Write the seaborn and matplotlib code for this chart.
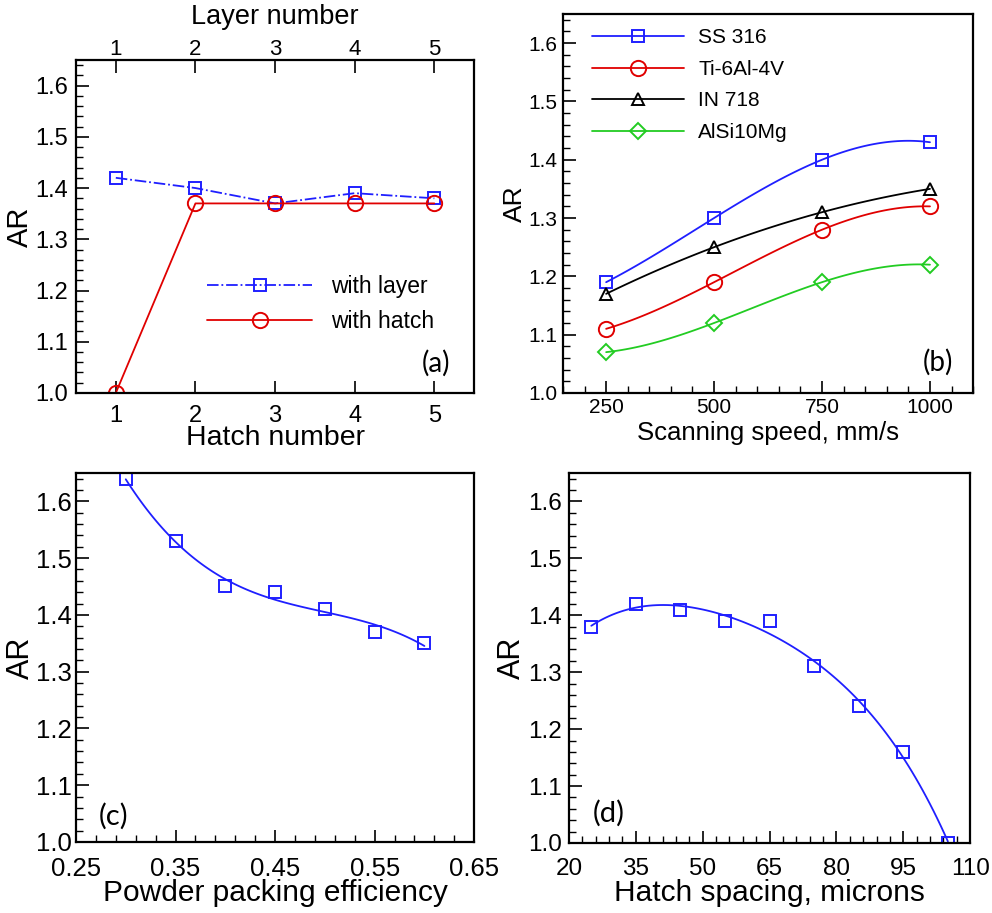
import numpy as np
import pandas as pd
import matplotlib
matplotlib.use('Agg')
import matplotlib.pyplot as plt
import seaborn as sns
from matplotlib.lines import Line2D
from matplotlib.ticker import AutoMinorLocator, FormatStrFormatter

# ---- data ----
hatch_num = [1, 2, 3, 4, 5]
ar_layer = [1.42, 1.40, 1.37, 1.39, 1.38]
ar_hatch = [1.00, 1.37, 1.37, 1.37, 1.37]

speed = [250, 500, 750, 1000]
ar_ss316 = [1.19, 1.30, 1.40, 1.43]
ar_ti64 = [1.11, 1.19, 1.28, 1.32]
ar_in718 = [1.17, 1.25, 1.31, 1.35]
ar_alsi = [1.07, 1.12, 1.19, 1.22]

packing = [0.30, 0.35, 0.40, 0.45, 0.50, 0.55, 0.60]
ar_packing = [1.64, 1.53, 1.45, 1.44, 1.41, 1.37, 1.35]

spacing = [25, 35, 45, 55, 65, 75, 85, 95, 105]
ar_spacing = [1.38, 1.42, 1.41, 1.39, 1.39, 1.31, 1.24, 1.16, 1.00]

BLUE = '#1f1fff'
RED = '#e00000'
BLACK = '#000000'
GREEN = '#22cc22'

sns.set_theme(style='ticks')
plt.rcParams['font.family'] = ['Liberation Sans', 'DejaVu Sans']
plt.rcParams['text.color'] = 'black'
plt.rcParams['axes.labelcolor'] = 'black'
plt.rcParams['xtick.color'] = 'black'
plt.rcParams['ytick.color'] = 'black'
plt.rcParams['axes.edgecolor'] = 'black'

fig = plt.figure(figsize=(9.92, 9.13), dpi=100)
ax_a = fig.add_axes([0.0766, 0.5696, 0.4014, 0.3647])
ax_b = fig.add_axes([0.5675, 0.5696, 0.4135, 0.4151])
ax_c = fig.add_axes([0.0766, 0.0778, 0.4014, 0.4042])
ax_d = fig.add_axes([0.5736, 0.0767, 0.4044, 0.4053])


def style_axes(ax, fs, xpad, ypad, lab_fs, xl_y, yl_x):
    ax.set_ylim(1.0, 1.65)
    ax.set_yticks([1.0, 1.1, 1.2, 1.3, 1.4, 1.5, 1.6])
    ax.yaxis.set_major_formatter(FormatStrFormatter('%.1f'))
    ax.yaxis.set_minor_locator(AutoMinorLocator(5))
    ax.tick_params(which='major', direction='in', length=9, width=1.2,
                   labelsize=fs, top=False, right=False)
    ax.tick_params(which='minor', direction='in', length=5, width=1.0,
                   top=False, right=False)
    ax.tick_params(axis='x', pad=xpad)
    ax.tick_params(axis='y', pad=ypad)
    for s in ax.spines.values():
        s.set_visible(True)
        s.set_color('black')
        s.set_linewidth(1.6)
    ax.set_ylabel('AR', fontsize=lab_fs)
    ax.xaxis.label.set_fontsize(lab_fs - 0.5)
    ax.xaxis.set_label_coords(0.5, xl_y)
    ax.yaxis.set_label_coords(yl_x, 0.5)
    ax.xaxis.label.set_verticalalignment('center')
    ax.yaxis.label.set_verticalalignment('center')


def hollow(ax, x, y, color, marker, ms):
    sns.lineplot(x=x, y=y, ax=ax, color=color, marker=marker, markersize=ms,
                 markerfacecolor='none', markeredgecolor=color,
                 markeredgewidth=1.4, linestyle='', legend=False)


# ---- (a) ----
sns.lineplot(x=hatch_num, y=ar_layer, ax=ax_a, color=BLUE, linestyle='-.',
             linewidth=1.3, marker='s', markersize=8.5, markerfacecolor='none',
             markeredgecolor=BLUE, markeredgewidth=1.4, label='with layer')
sns.lineplot(x=hatch_num, y=ar_hatch, ax=ax_a, color=RED, linestyle='-',
             linewidth=1.3, marker='o', markersize=11, markerfacecolor='none',
             markeredgecolor=RED, markeredgewidth=1.4, label='with hatch')
ax_a.set_xlim(0.5, 5.5)
ax_a.set_xticks(hatch_num)
ax_a.set_xlabel('Hatch number')
style_axes(ax_a, 17, 8.5, 5.5, 21, -0.135, -0.141)
top_a = ax_a.twiny()
top_a.set_xlim(0.5, 5.5)
top_a.set_xticks(hatch_num)
top_a.tick_params(direction='in', length=9, width=1.2, labelsize=16, pad=0)
top_a.set_xlabel('Layer number', fontsize=19.5)
top_a.xaxis.set_label_coords(0.5, 1.128)
top_a.xaxis.label.set_verticalalignment('center')
ax_a.legend(loc='upper left', bbox_to_anchor=(0.329, 0.354), frameon=False,
            fontsize=16.5, handlelength=4.6, handletextpad=0.8,
            labelspacing=0.5, borderpad=0, borderaxespad=0)
ax_a.text(0.905, 0.09, '(a)', transform=ax_a.transAxes, fontsize=20,
          ha='center', va='center', family=['Lato', 'DejaVu Sans'])

# ---- (b) ----
series_b = [('SS 316', ar_ss316, BLUE, 's', 9),
            ('Ti-6Al-4V', ar_ti64, RED, 'o', 11),
            ('IN 718', ar_in718, BLACK, '^', 9),
            ('AlSi10Mg', ar_alsi, GREEN, 'D', 8)]
handles = []
for name, vals, c, m, ms in series_b:
    sns.regplot(x=speed, y=vals, ax=ax_b, order=3, ci=None, scatter=False,
                line_kws=dict(color=c, linewidth=1.3))
    hollow(ax_b, speed, vals, c, m, ms)
    handles.append(Line2D([], [], color=c, linewidth=1.3, marker=m,
                          markersize=ms, markerfacecolor='none',
                          markeredgecolor=c, markeredgewidth=1.4))
ax_b.set_xlim(150, 1100)
ax_b.set_xticks(speed)
ax_b.xaxis.set_minor_locator(AutoMinorLocator(5))
ax_b.set_xlabel('Scanning speed, mm/s')
style_axes(ax_b, 15, 3.5, 4, 19, -0.106, -0.117)
ax_b.legend(handles, [s[0] for s in series_b], loc='upper left',
            bbox_to_anchor=(0.071, 0.962), frameon=False, fontsize=15,
            handlelength=4.4, handletextpad=0.7, labelspacing=0.6,
            borderpad=0, borderaxespad=0)
ax_b.text(0.915, 0.08, '(b)', transform=ax_b.transAxes, fontsize=20,
          ha='center', va='center', family=['Lato', 'DejaVu Sans'])

# ---- (c) ----
sns.regplot(x=packing, y=ar_packing, ax=ax_c, order=3, ci=None, scatter=False,
            line_kws=dict(color=BLUE, linewidth=1.3))
hollow(ax_c, packing, ar_packing, BLUE, 's', 9)
ax_c.set_xlim(0.25, 0.65)
ax_c.set_xticks([0.25, 0.35, 0.45, 0.55, 0.65])
ax_c.xaxis.set_major_formatter(FormatStrFormatter('%.2f'))
ax_c.xaxis.set_minor_locator(AutoMinorLocator(5))
ax_c.set_xlabel('Powder packing efficiency')
style_axes(ax_c, 18.5, 11, 3, 22, -0.138, -0.138)
ax_c.text(0.095, 0.07, '(c)', transform=ax_c.transAxes, fontsize=21,
          ha='center', va='center', family=['Lato', 'DejaVu Sans'])

# ---- (d) ----
sns.regplot(x=spacing, y=ar_spacing, ax=ax_d, order=4, ci=None, scatter=False,
            line_kws=dict(color=BLUE, linewidth=1.3))
hollow(ax_d, spacing, ar_spacing, BLUE, 's', 9)
ax_d.set_xlim(20, 110)
ax_d.set_xticks([20, 35, 50, 65, 80, 95, 110])
ax_d.xaxis.set_minor_locator(AutoMinorLocator(5))
ax_d.set_xlabel('Hatch spacing, microns')
style_axes(ax_d, 17.5, 11, 5, 22, -0.135, -0.142)
ax_d.text(0.10, 0.08, '(d)', transform=ax_d.transAxes, fontsize=21,
          ha='center', va='center', family=['Lato', 'DejaVu Sans'])

plt.savefig('out.png', dpi=100)
plt.close()
